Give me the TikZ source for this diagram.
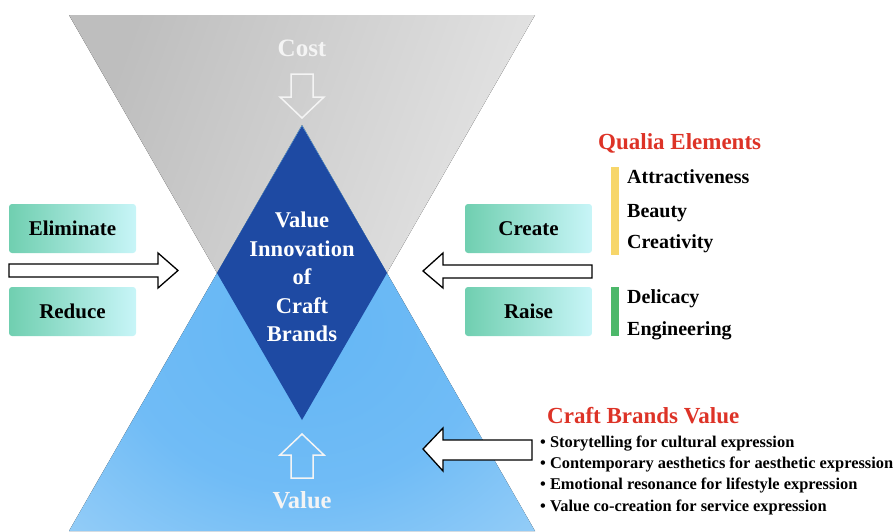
\documentclass[tikz,border=0pt]{standalone}
\usepackage{fontspec}
\setmainfont{Liberation Serif}[BoldFont={Liberation Serif Bold}]
\definecolor{grayL}{RGB}{190,190,190}
\definecolor{grayR}{RGB}{232,232,232}
\definecolor{bin}{RGB}{100,182,245}
\definecolor{bout}{RGB}{180,220,249}
\definecolor{dia}{RGB}{30,74,163}
\definecolor{boxL}{RGB}{112,207,176}
\definecolor{boxR}{RGB}{200,245,248}
\definecolor{redt}{RGB}{221,51,39}
\definecolor{colYel}{RGB}{247,214,106}
\definecolor{colGrn}{RGB}{76,184,106}
\definecolor{wtext}{RGB}{244,244,244}
\pgfdeclareradialshading{bluerad}{\pgfpoint{0bp}{0bp}}{color(0bp)=(bin); color(20bp)=(bin!85!bout); color(50bp)=(bout)}
\tikzset{
  lbl/.style={inner sep=0pt, font=\bfseries},
  tbox/.style={rounded corners=3pt, minimum width=127pt, minimum height=49pt,
    left color=boxL, right color=boxR, inner sep=0pt,
    font=\bfseries\fontsize{21}{24}\selectfont},
  barrow/.style={draw=black, line width=1.3pt, fill=white, line join=miter},
  warrow/.style={draw=wtext, line width=1.5pt, line join=miter},
  item/.style={lbl, anchor=base west, font=\bfseries\fontsize{20}{24}\selectfont},
  bullet/.style={lbl, anchor=base west, font=\bfseries\fontsize{16.4}{20}\selectfont},
  head/.style={lbl, anchor=base west, text=redt, font=\bfseries\fontsize{23}{28}\selectfont}
}
\begin{document}
\begin{tikzpicture}[x=1pt,y=-1pt]
\useasboundingbox (0,0) rectangle (896,531);
% hourglass
\fill[left color=grayL, right color=grayR, shading angle=70] (69,15) -- (535,15) -- (302,421) -- cycle;
\fill[shading=bluerad] (69,531) -- (535,531) -- (302,125) -- cycle;
\fill[dia] (302,126) -- (387,273) -- (302,420) -- (217,273) -- cycle;
% diamond text
\node[lbl, text=white, align=center, font=\bfseries\fontsize{22.5}{28.5}\selectfont] (vi) at (302,277) {Value\\Innovation\\of\\Craft\\Brands};
% cost / value
\node[lbl, anchor=base, text=wtext, font=\bfseries\fontsize{25}{30}\selectfont] (cost) at (302,56) {Cost};
\node[lbl, anchor=base, text=wtext, font=\bfseries\fontsize{24.5}{30}\selectfont] (value) at (302,508) {Value};
\draw[warrow] (291,74) -- (313,74) -- (313,97) -- (324,97) -- (302,118) -- (280,97) -- (291,97) -- cycle;
\draw[warrow] (291,478) -- (313,478) -- (313,455) -- (324,455) -- (302,434) -- (280,455) -- (291,455) -- cycle;
% left boxes
\node[tbox] (elim) at (72.5,228.5) {Eliminate};
\node[tbox] (red) at (72.5,311.5) {Reduce};
\draw[barrow] (9,264) -- (158,264) -- (158,253) -- (178,270.5) -- (158,288) -- (158,277) -- (9,277) -- cycle;
% right boxes
\node[tbox] (create) at (528.5,228.5) {Create};
\node[tbox] (raise) at (528.5,311.5) {Raise};
\draw[barrow] (592,265) -- (443,265) -- (443,253) -- (423,271) -- (443,288) -- (443,278) -- (592,278) -- cycle;
% qualia
\node[head] (qh) at (598,149) {Qualia Elements};
\fill[fill=colYel] (611,167) rectangle (619,255);
\fill[fill=colGrn] (611,287) rectangle (619,336);
\node[item] (q1) at (627,183) {Attractiveness};
\node[item] (q2) at (627,217) {Beauty};
\node[item] (q3) at (627,248) {Creativity};
\node[item] (q4) at (627,303) {Delicacy};
\node[item] (q5) at (627,335) {Engineering};
% craft brands value
\node[head] (ch) at (547,423) {Craft Brands Value};
\draw[barrow] (532,440) -- (443,440) -- (443,428) -- (423,449) -- (443,471) -- (443,460) -- (532,460) -- cycle;
\node[bullet] (b1) at (540,447) {• Storytelling for cultural expression};
\node[bullet] (b2) at (540,468) {• Contemporary aesthetics for aesthetic expression};
\node[bullet] (b3) at (540,489) {• Emotional resonance for lifestyle expression};
\node[bullet] (b4) at (540,511) {• Value co-creation for service expression};
\end{tikzpicture}
\end{document}
